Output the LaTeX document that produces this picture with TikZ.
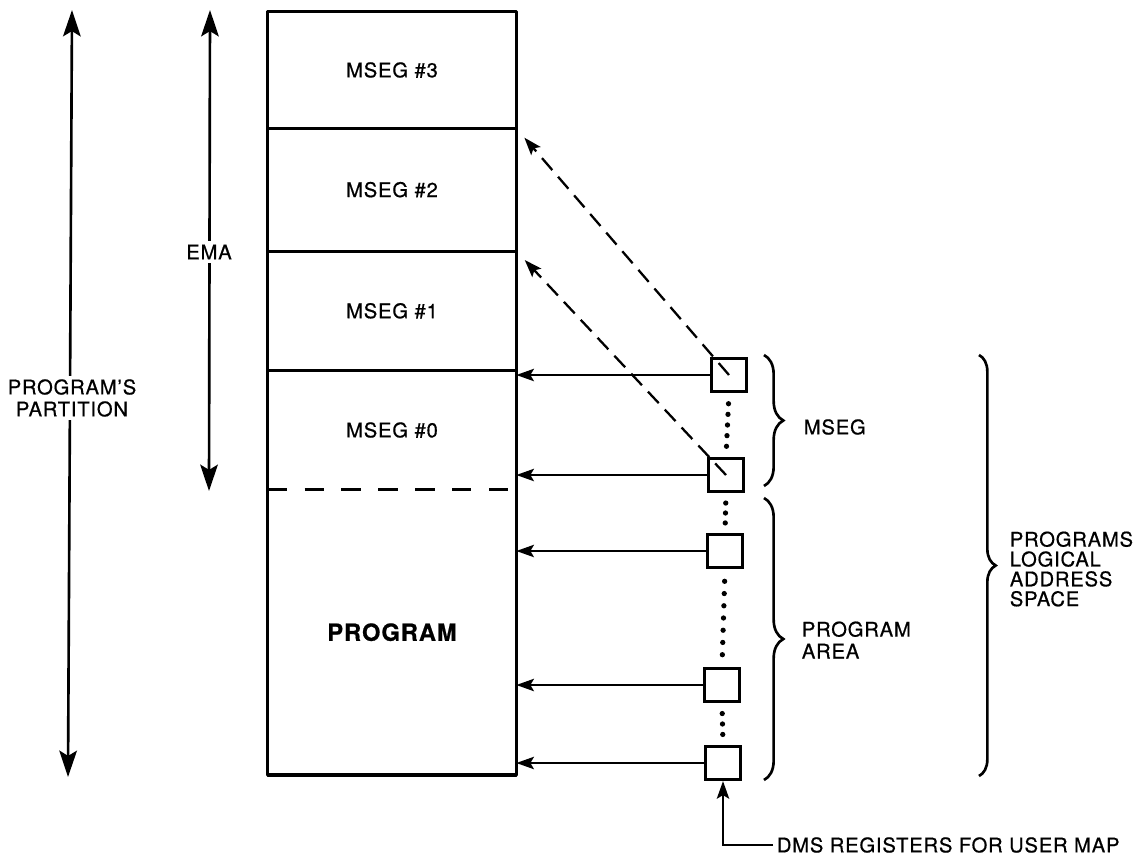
\documentclass[tikz,border=0pt]{standalone}
\usepackage{fontspec}
\setmainfont{TeX Gyre Heros}[LetterSpace=4, FakeBold=0.6]
\usetikzlibrary{arrows.meta, positioning, calc, decorations.pathreplacing}

\tikzset{
  seg/.style={minimum width=4.96cm, inner sep=0pt, font=\fontsize{11.5}{12}\selectfont},
  reg/.style={draw, line width=1.8pt, minimum width=0.7cm, minimum height=0.66cm, inner sep=0pt},
  ptr/.style={line width=1.3pt, -{Stealth[length=10pt, width=7pt, inset=2pt]}},
  dimarrow/.style={line width=1.5pt, {Stealth[length=15pt, width=10pt, inset=3pt]}-{Stealth[length=15pt, width=10pt, inset=3pt]}},
  lbl/.style={font=\fontsize{11.5}{12.5}\selectfont, align=left, inner sep=2pt},
  curly/.style={decorate, decoration={brace, amplitude=11pt}, line width=1.5pt}
}

\begin{document}
\begin{tikzpicture}[x=0.02cm, y=-0.02cm]
  \useasboundingbox (0,0) rectangle (1134,859);

  % ----- Partition: segments stacked top to bottom -----
  \node[seg, minimum height=2.32cm] (mseg3) at (392,70) {MSEG \#3};
  \node[seg, minimum height=2.44cm, below=0pt of mseg3] (mseg2) {MSEG \#2};
  \node[seg, minimum height=2.38cm, below=0pt of mseg2] (mseg1) {MSEG \#1};
  \node[seg, minimum height=2.36cm, below=0pt of mseg1] (mseg0) {MSEG \#0};
  \node[seg, minimum height=5.70cm, below=0pt of mseg0, font=\bfseries\fontsize{13.5}{14}\selectfont] (prog) {PROGRAM};

  \draw[line width=2pt, line join=round] (mseg3.north west) rectangle (prog.south east);
  \foreach \s in {mseg3, mseg2, mseg1}
    \draw[line width=1.7pt] (\s.south west) -- (\s.south east);
  \draw[line width=1.7pt, dash pattern=on 11pt off 10pt] (mseg0.south west) -- (mseg0.south east);

  % ----- Extents on the left -----
  \coordinate (parttop) at (72,10);
  \coordinate (partbot) at (68,777);
  \draw[dimarrow] (parttop) -- (partbot);
  \node[lbl, align=center, fill=white] (partlbl) at (72,398) {PROGRAM'S\\PARTITION};

  \coordinate (ematop) at (210,10);
  \coordinate (emabot) at (209,491);
  \draw[dimarrow] (ematop) -- (emabot);
  \node[lbl, fill=white] (emalbl) at (209,252) {EMA};

  % ----- DMS map registers -----
  \node[reg] (r1) at (729,375) {};
  \node[reg] (r2) at (726,475) {};
  \node[reg] (r3) at (725,551) {};
  \node[reg] (r4) at (722,685) {};
  \node[reg] (r5) at (723,763) {};

  \foreach \r in {r1, r2, r3, r4, r5}
    \draw[ptr] (\r.west) -- (\r.west -| prog.east);

  % dotted runs between registers
  \foreach \a/\b/\n in {r1/r2/5, r2/r3/3, r3/r4/7, r4/r5/3}
    \foreach \i in {1,...,\n}
      \fill ($(\a.south)!{\i/(\n+1)}!(\b.north)$) circle (1.5pt);

  % MSEG registers pointing further up
  \draw[ptr, dash pattern=on 9pt off 5pt, shorten >=7pt] (r1.center) -- (mseg3.south east);
  \draw[ptr, dash pattern=on 9pt off 5pt, shorten >=7pt] (r2.center) -- (mseg2.south east);

  % ----- Braces on the right -----
  \coordinate (msegtop) at (764,355);
  \coordinate (msegbot) at (764,486);
  \draw[curly] (msegtop) -- (msegbot);
  \node[lbl, anchor=west] (mseglbl) at (800,427) {MSEG};

  \coordinate (areatop) at (764,498);
  \coordinate (areabot) at (764,780);
  \draw[curly] (areatop) -- (areabot);
  \node[lbl, anchor=west] (arealbl) at (798,640) {PROGRAM\\AREA};

  \coordinate (spacetop) at (979,355);
  \coordinate (spacebot) at (979,776);
  \draw[curly, decoration={amplitude=9.5pt}] (spacetop) -- (spacebot);
  \node[lbl, anchor=west, font=\fontsize{11.5}{11.3}\selectfont] (spacelbl) at (1006,569) {PROGRAMS\\LOGICAL\\ADDRESS\\SPACE};

  % ----- Register note -----
  \node[lbl, anchor=west] (dmslbl) at (773,845) {DMS REGISTERS FOR USER MAP};
  \draw[ptr] (dmslbl.west) -| (r5.south);
\end{tikzpicture}
\end{document}
